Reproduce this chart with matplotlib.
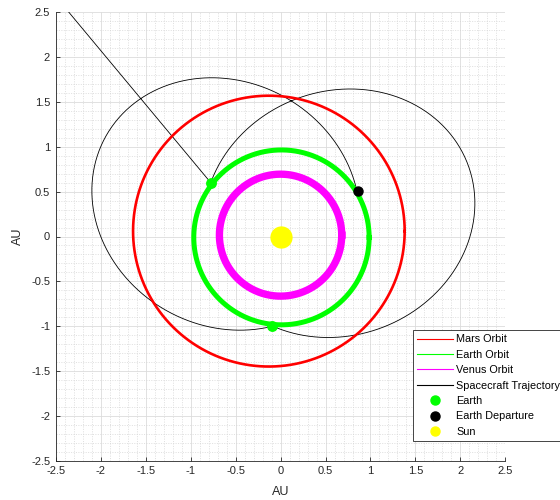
import numpy as np
import matplotlib
matplotlib.use("Agg")
import matplotlib.pyplot as plt
from matplotlib.lines import Line2D
from matplotlib.ticker import MultipleLocator

plt.rcParams['font.family'] = ['Liberation Sans', 'DejaVu Sans']

# planet orbits (centre, radius in AU)
orbit_labels = ['Mars Orbit', 'Earth Orbit', 'Venus Orbit']
orbit_cx = [-0.13, 0.01, 0.0]
orbit_cy = [0.06, -0.01, 0.015]
orbit_r = [1.51, 0.975, 0.68]

# spacecraft trajectory: two sun-focused conic arcs
# (semi-latus rectum, eccentricity, periapsis angle, start/end true longitude, deg)
arc_p = [1.206, 1.210]
arc_e = [0.462, 0.458]
arc_peri = [-30.8, -158.3]
arc_start = [30.7, 264.9]
arc_end = [264.9, 502.3]

# escape leg after the second flyby
escape_x = [-0.776, -2.37]
escape_y = [0.60, 2.52]

earth_x = [-0.09, -0.776]
earth_y = [-1.00, 0.60]
depart_x = [0.86]
depart_y = [0.51]
sun_x = [0.0]
sun_y = [0.0]

orbit_colors = ['#ff0000', '#00ff00', '#ff00ff']
orbit_lw = [1.9, 3.6, 5.3]
txt = '#262626'

fig = plt.figure(figsize=(5.6, 5.0), dpi=100)
ax = fig.add_axes([0.0995, 0.0786, 0.803, 0.8968])

# trajectory
traj_x, traj_y = [], []
for p, e, w, t0, t1 in zip(arc_p, arc_e, arc_peri, arc_start, arc_end):
    th = np.radians(np.linspace(t0, t1, 600))
    r = p / (1 + e * np.cos(th - np.radians(w)))
    traj_x.append(r * np.cos(th))
    traj_y.append(r * np.sin(th))
traj_x.append(np.array(escape_x))
traj_y.append(np.array(escape_y))
ax.plot(np.concatenate(traj_x), np.concatenate(traj_y), color='k', lw=0.6, zorder=2)

phi = np.linspace(0, 2 * np.pi, 500)
for cx, cy, r, c, lw in zip(orbit_cx, orbit_cy, orbit_r, orbit_colors, orbit_lw):
    ax.plot(cx + r * np.cos(phi), cy + r * np.sin(phi), color=c, lw=lw, zorder=3)

ax.plot(earth_x, earth_y, 'o', color='#00ff00', ms=6.8, zorder=4)
ax.plot(depart_x, depart_y, 'o', color='k', ms=6.5, zorder=4)
ax.plot(sun_x, sun_y, 'o', color='#ffff00', ms=15, zorder=4)

ax.set_xlim(-2.5, 2.5)
ax.set_ylim(-2.5, 2.5)
ax.xaxis.set_major_locator(MultipleLocator(0.5))
ax.yaxis.set_major_locator(MultipleLocator(0.5))
ax.xaxis.set_minor_locator(MultipleLocator(0.1))
ax.yaxis.set_minor_locator(MultipleLocator(0.1))
ax.set_xticklabels([f'{v:g}' for v in ax.get_xticks()])
ax.set_yticklabels([f'{v:g}' for v in ax.get_yticks()])
ax.grid(True, which='major', color='#dcdcdc', lw=0.6)
ax.grid(True, which='minor', color='#d4d4d4', lw=0.5, ls=(0, (1.5, 2)))
ax.set_axisbelow(True)
ax.tick_params(which='major', direction='in', length=3, width=0.6, colors=txt,
               labelsize=8, pad=4)
ax.tick_params(which='minor', length=0)
for s in ['top', 'right']:
    ax.spines[s].set_visible(False)
for s in ['left', 'bottom']:
    ax.spines[s].set_color(txt)
    ax.spines[s].set_linewidth(0.6)
ax.set_xlabel('AU', fontsize=9, color=txt, labelpad=7)
ax.set_ylabel('AU', fontsize=9, color=txt, labelpad=5)

handles = [Line2D([], [], color=c, lw=0.8) for c in orbit_colors]
handles.append(Line2D([], [], color='k', lw=0.8))
handles += [Line2D([], [], ls='none', marker='o', color=c, ms=6.5)
            for c in ['#00ff00', 'k', '#ffff00']]
labels = orbit_labels + ['Spacecraft Trajectory', 'Earth', 'Earth Departure', 'Sun']
leg = fig.legend(handles, labels, loc='upper left', bbox_to_anchor=(0.737, 0.34),
                 fontsize=7.8, frameon=True, fancybox=False, framealpha=1,
                 edgecolor=txt, borderpad=0.4, labelspacing=0.5,
                 handlelength=3.3, handletextpad=0.3, borderaxespad=0)
leg.get_frame().set_linewidth(0.6)

fig.savefig('out.png', dpi=100)
